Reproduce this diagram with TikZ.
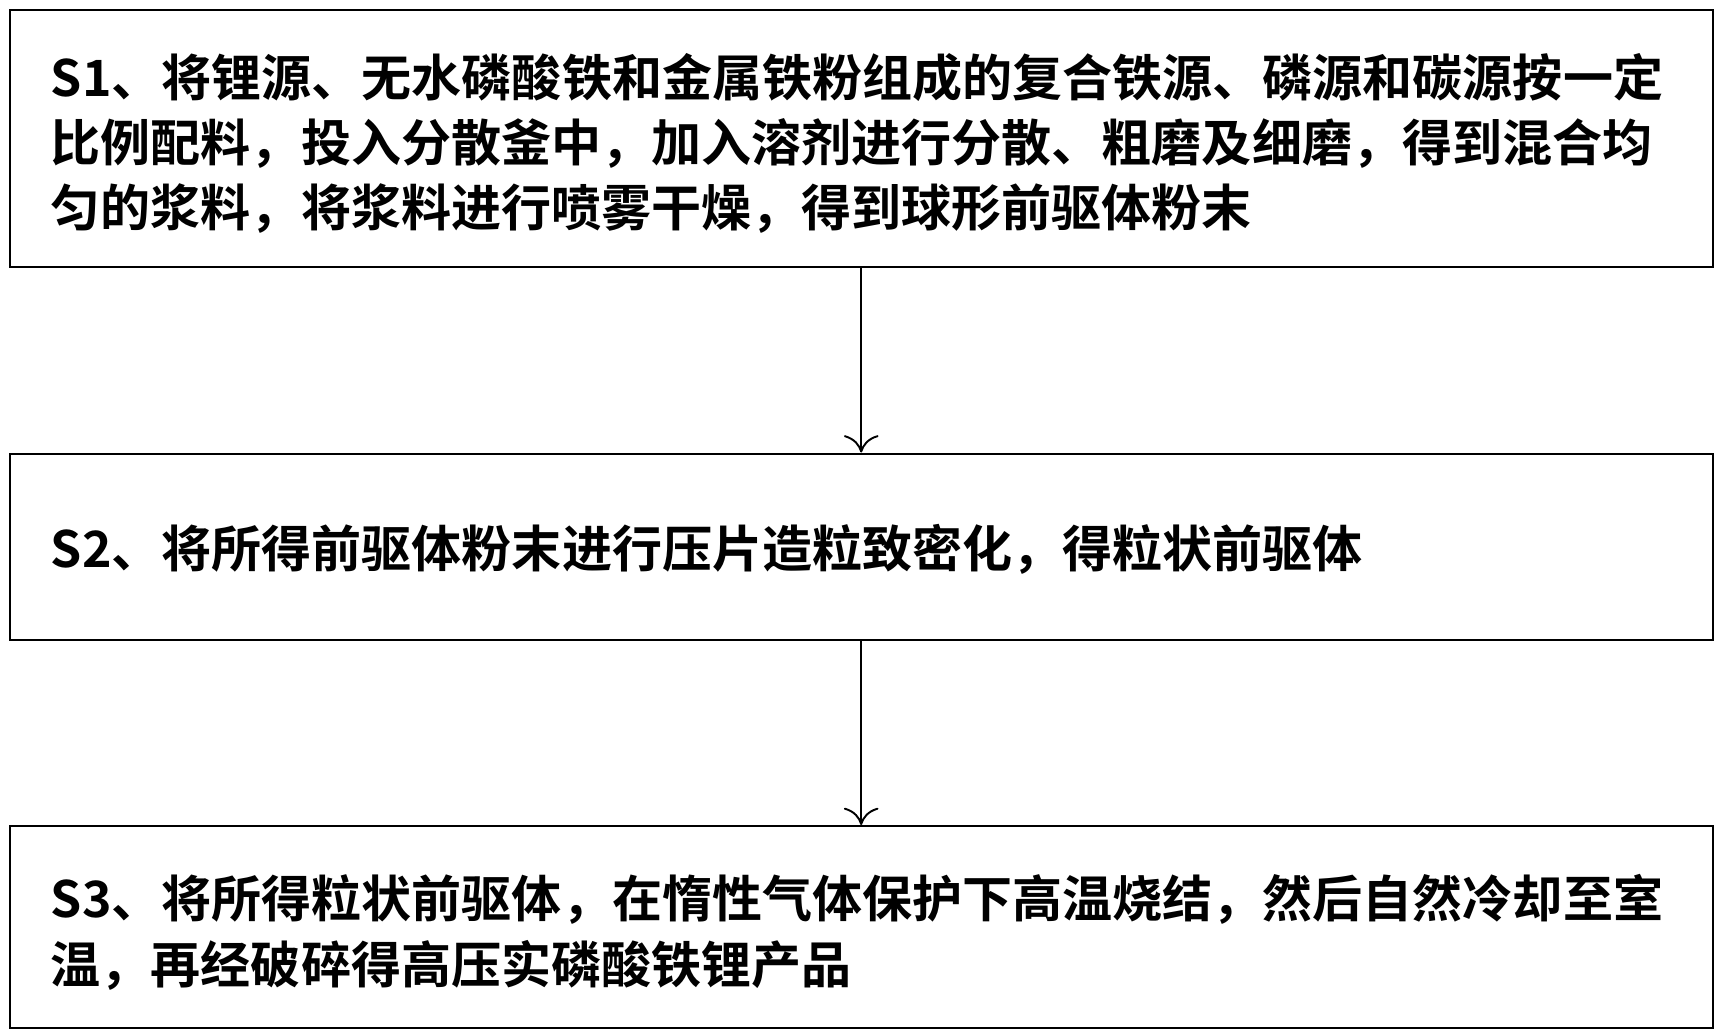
\documentclass[tikz,border=0pt]{standalone}
\usepackage{fontspec}
\newfontfamily\cjk{Noto Sans CJK SC}[BoldFont={* Bold}]
\setmainfont{Liberation Sans}
\usetikzlibrary{arrows.meta}
\begin{document}
\begin{tikzpicture}[x=0.02cm,y=-0.02cm,
  stepbox/.style={draw,line width=1.1pt,minimum width=31.1cm,anchor=north west,inner sep=0pt},
  txt/.style={anchor=north west,align=left,inner sep=0pt,font=\cjk\bfseries\fontsize{26}{34}\selectfont},
  arr/.style={line width=1pt,-{To[length=9pt,width=18pt]}}]
\useasboundingbox (0,0) rectangle (1568,942);
\node[stepbox,minimum height=4.7cm] (b1) at (8,8) {};
\node[stepbox,minimum height=3.4cm] (b2) at (8,413) {};
\node[stepbox,minimum height=3.68cm] (b3) at (8,753) {};
\node[txt] (t1) at (46,48) {S1、将锂源、无水磷酸铁和金属铁粉组成的复合铁源、磷源和碳源按一定\\比例配料，投入分散釜中，加入溶剂进行分散、粗磨及细磨，得到混合均\\匀的浆料，将浆料进行喷雾干燥，得到球形前驱体粉末};
\node[txt] (t2) at (46,478) {S2、将所得前驱体粉末进行压片造粒致密化，得粒状前驱体};
\node[txt] (t3) at (46,798) {S3、将所得粒状前驱体，在惰性气体保护下高温烧结，然后自然冷却至室\\温，再经破碎得高压实磷酸铁锂产品};
\draw[arr] (b1.south -| 786,0) -- (b2.north -| 786,0);
\draw[arr] (b2.south -| 786,0) -- (b3.north -| 786,0);
\end{tikzpicture}
\end{document}
